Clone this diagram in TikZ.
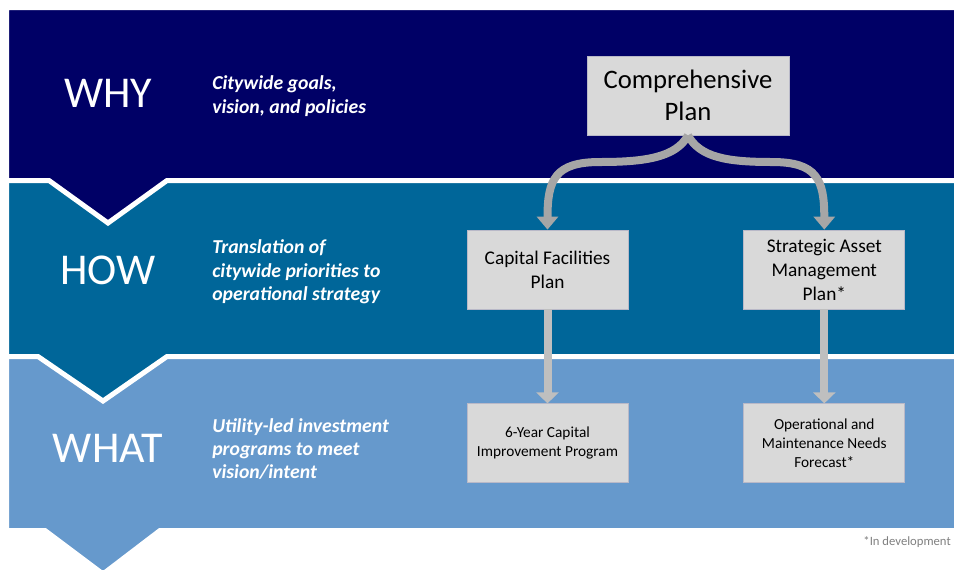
\documentclass[tikz,border=0pt]{standalone}
\usepackage{fontspec}
\setmainfont{Carlito}
\usetikzlibrary{positioning,arrows.meta}
\definecolor{whyblue}{RGB}{0,0,102}
\definecolor{howblue}{RGB}{0,102,153}
\definecolor{whatblue}{RGB}{102,153,204}
\definecolor{boxgray}{RGB}{217,217,217}
\definecolor{boxline}{RGB}{185,185,200}
\definecolor{bendgray}{RGB}{166,166,166}
\definecolor{dropgray}{RGB}{191,191,191}
\definecolor{notegray}{RGB}{127,127,127}
\tikzset{
  band/.style={draw=white,line width=3.75pt},
  level/.style={text=white,font=\fontsize{33}{40}\selectfont},
  aim/.style={text=white,anchor=west,align=left,inner sep=0pt,font=\fontsize{14.8}{17.6}\selectfont\bfseries\itshape},
  planbox/.style={draw=boxline,fill=boxgray,line width=0.6pt,minimum width=120.75pt,minimum height=59.25pt,align=center,inner sep=2pt,font=\fontsize{14.5}{18}\selectfont},
  bigbox/.style={minimum width=151.5pt,font=\fontsize{20}{24}\selectfont},
  smallbox/.style={font=\fontsize{11.5}{14.25}\selectfont},
  bend arrow/.style={color=bendgray,line width=6pt,-{Triangle[width=15.75pt,length=9.75pt]}},
  drop arrow/.style={color=dropgray,line width=6pt,-{Triangle[width=16.5pt,length=8.25pt]}}
}

\begin{document}
\begin{tikzpicture}[x=0.75pt,y=-0.75pt]
  \useasboundingbox (0,0) rectangle (954,569);
  % the three levels, lowest first
  \filldraw[band,fill=whatblue] (6.5,350) -- (960,350) -- (960,530.5) -- (160,530.5) -- (103,574) -- (45,530.5) -- (6.5,530.5) -- cycle;
  \filldraw[band,fill=howblue] (6.5,170) -- (960,170) -- (960,356.5) -- (167,356.5) -- (103,401) -- (38,356.5) -- (6.5,356.5) -- cycle;
  \filldraw[band,fill=whyblue] (6.5,7.5) -- (960,7.5) -- (960,180.5) -- (167,180.5) -- (108,223) -- (49,180.5) -- (6.5,180.5) -- cycle;

  \node[level] (why) at (108,93) {WHY};
  \node[level] (how) at (108,270) {HOW};
  \node[level] (what) at (108,448) {WHAT};

  \node[aim] (whyaim) at (212,96) {Citywide goals,\\vision, and policies};
  \node[aim] (howaim) at (212,272) {Translation of\\citywide priorities to\\operational strategy};
  \node[aim] (whataim) at (212,449) {Utility-led investment\\programs to meet\\vision/intent};

  \node[planbox,bigbox] (comp) at (688,95.5) {Comprehensive\\Plan};
  \node[planbox] (cfp) at (547.5,269.5) {Capital Facilities\\Plan};
  \node[planbox] (samp) [right=86.25pt of cfp] {Strategic Asset\\Management\\Plan*};
  \node[planbox,smallbox] (cip) [below=70.5pt of cfp] {6-Year Capital\\Improvement Program};
  \node[planbox,smallbox] (omf) [below=70.5pt of samp] {Operational and\\Maintenance Needs\\Forecast*};

  \draw[bend arrow] (comp.south) .. controls +(-12,22) and +(45,0) .. (600,162) .. controls +(-45,0) and +(0,-50) .. (cfp.north);
  \draw[bend arrow] (comp.south) .. controls +(12,22) and +(-45,0) .. (772,162) .. controls +(45,0) and +(0,-50) .. (samp.north);
  \path[drop arrow]
    (cfp) edge (cip)
    (samp) edge (omf);

  \node[anchor=east,inner sep=0pt,text=notegray,font=\fontsize{9.5}{11}\selectfont] (note) at (951,542) {*In development};
\end{tikzpicture}
\end{document}
